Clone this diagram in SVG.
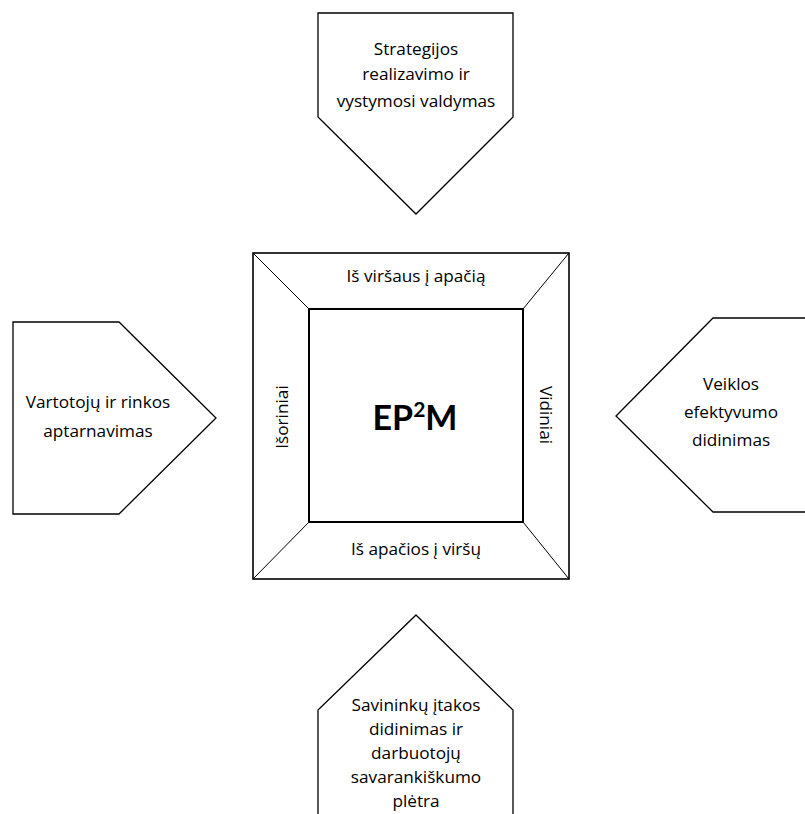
<svg xmlns="http://www.w3.org/2000/svg" width="805" height="814" viewBox="0 0 805 814">
<style>
.shape{fill:#fff;stroke:#000;stroke-width:1.3}
.t{font-family:"Open Sans","Noto Sans",sans-serif;font-size:17.2px;fill:#000;text-anchor:middle}
.diag{stroke:#000;stroke-width:1;fill:none}
</style>
<rect width="805" height="814" fill="#fff"/>
<g id="top">
<polygon class="shape" points="318,13 513,13 513,117 416,214 318,117"/>
<text class="t" x="416" y="55">Strategijos</text>
<text class="t" x="416" y="80">realizavimo ir</text>
<text class="t" x="416" y="107">vystymosi valdymas</text>
</g>
<g id="left">
<polygon class="shape" points="13,322 119,322 216,418 119,514 13,514"/>
<text class="t" x="98" y="408">Vartotojų ir rinkos</text>
<text class="t" x="98" y="437">aptarnavimas</text>
</g>
<g id="right">
<polygon class="shape" points="808,318 713,318 616,416 713,512 808,512"/>
<text class="t" x="731" y="390">Veiklos</text>
<text class="t" x="731" y="418">efektyvumo</text>
<text class="t" x="731" y="446">didinimas</text>
</g>
<g id="bottom">
<polygon class="shape" points="416,615 513,710 513,820 318,820 318,710"/>
<text class="t" x="416" y="711">Savininkų įtakos</text>
<text class="t" x="416" y="735">didinimas ir</text>
<text class="t" x="416" y="759">darbuotojų</text>
<text class="t" x="416" y="783">savarankiškumo</text>
<text class="t" x="416" y="807">plėtra</text>
</g>
<g id="center">
<rect x="253" y="253" width="316" height="326" fill="#fff" stroke="#000" stroke-width="1.6"/>
<g id="connectors">
<line class="diag" x1="253" y1="253" x2="309" y2="309"/>
<line class="diag" x1="569" y1="253" x2="523" y2="309"/>
<line class="diag" x1="253" y1="579" x2="309" y2="522"/>
<line class="diag" x1="569" y1="579" x2="523" y2="522"/>
</g>
<rect x="309" y="309" width="214" height="213" fill="#fff" stroke="#000" stroke-width="2"/>
<text class="t" x="416" y="282">Iš viršaus į apačią</text>
<text class="t" x="416" y="555">Iš apačios į viršų</text>
<text class="t" transform="translate(288,417) rotate(-90)">Išoriniai</text>
<text class="t" transform="translate(540,415) rotate(90)">Vidiniai</text>
<text font-family="Lato,'Open Sans',sans-serif" font-weight="bold" font-size="34" x="415" y="430" text-anchor="middle">EP<tspan font-size="21" dy="-13">2</tspan><tspan dy="13">M</tspan></text>
</g>
</svg>
